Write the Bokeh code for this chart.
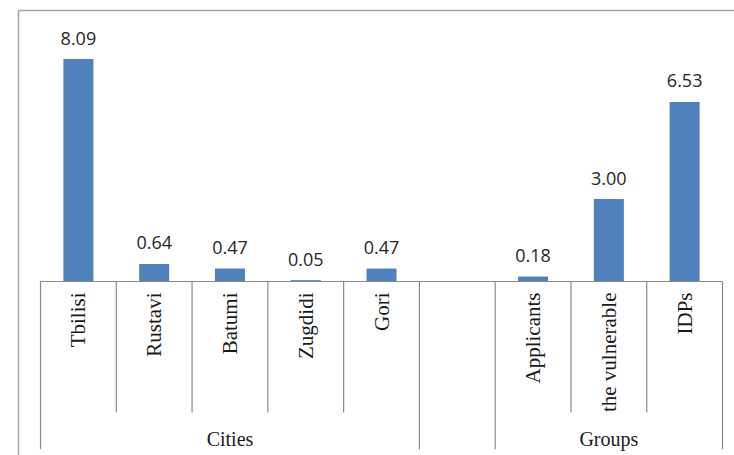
from bokeh.plotting import figure
from bokeh.models import ColumnDataSource, Range1d
from bokeh.core.properties import value
from bokeh.embed import file_html
from bokeh.resources import INLINE
import math

# ---- data ----
groups = ["Cities", "Cities", "Cities", "Cities", "Cities", "", "Groups", "Groups", "Groups"]
categories = ["Tbilisi", "Rustavi", "Batumi", "Zugdidi", "Gori", "", "Applicants", "the vulnerable", "IDPs"]
values = [8.09, 0.64, 0.47, 0.05, 0.47, None, 0.18, 3.00, 6.53]

# ---- styles ----
BAR = "#4F81BD"
AXIS = "#8a8a8a"
FRAME = "#a6a6a6"
n = len(categories)
W, H = 734, 455

x_start, x_end = -0.528, 9.158
y_start, y_end = -6.327, 10.218

p = figure(width=W, height=H, output_backend="svg", toolbar_location=None,
           x_range=Range1d(x_start, x_end), y_range=Range1d(y_start, y_end),
           min_border=0, min_border_left=0, min_border_right=0,
           min_border_top=0, min_border_bottom=0)
p.axis.visible = False
p.grid.visible = False
p.outline_line_color = None
p.background_fill_color = "white"
p.border_fill_color = "white"

# frame (left and top edges), derived from ranges
frame_left = x_start + (x_end - x_start) * 18 / W
frame_top = y_end - (y_end - y_start) * 10 / H
p.segment(x0=[frame_left, frame_left], y0=[y_start, frame_top],
          x1=[frame_left, x_end], y1=[frame_top, frame_top],
          line_color=FRAME, line_width=1.5)

# bars
xs = [i + 0.5 for i in range(n) if values[i] is not None]
vs = [values[i] for i in range(n) if values[i] is not None]
src = ColumnDataSource(dict(x=xs, top=vs, lab=["%.2f" % v for v in vs]))
p.vbar(x="x", top="top", bottom=0, width=0.396, source=src,
       fill_color=BAR, line_color=None)
p.text(x="x", y="top", text="lab", source=src, text_align="center",
       text_baseline="alphabetic", y_offset=-21, text_font=value("Open Sans"),
       text_font_size="18px", text_color="#262626")

# category axis baseline
p.segment(x0=[0], y0=[0], x1=[n], y1=[0], line_color=AXIS, line_width=1.2)

# separators: full height at group changes, short between categories
inner_bottom = -4.764
full_bottom = -6.1
full_x, inner_x = [], []
for b in range(n + 1):
    if b == 0 or b == n or groups[b - 1] != groups[b]:
        full_x.append(b)
    else:
        inner_x.append(b)
p.segment(x0=full_x, y0=[0] * len(full_x), x1=full_x, y1=[full_bottom] * len(full_x),
          line_color=AXIS, line_width=1.2)
p.segment(x0=inner_x, y0=[0] * len(inner_x), x1=inner_x, y1=[inner_bottom] * len(inner_x),
          line_color=AXIS, line_width=1.2)

# category labels (vertical)
csrc = ColumnDataSource(dict(x=[i + 0.5 for i in range(n)], y=[0] * n, t=categories))
p.text(x="x", y="y", text="t", source=csrc, angle=math.pi / 2,
       text_align="right", text_baseline="middle", y_offset=11,
       text_font=value("Liberation Serif"), text_font_size="21px", text_color="#1a1a1a")

# group labels
gx, gt = [], []
start = 0
for i in range(1, n + 1):
    if i == n or groups[i] != groups[start]:
        if groups[start]:
            gx.append((start + i) / 2)
            gt.append(groups[start])
        start = i
gsrc = ColumnDataSource(dict(x=gx, y=[0] * len(gx), t=gt))
p.text(x="x", y="y", text="t", source=gsrc, text_align="center",
       text_baseline="middle", y_offset=157,
       text_font=value("Liberation Serif"), text_font_size="20px", text_color="#1a1a1a")

open("out.html", "w").write(file_html(p, INLINE))
